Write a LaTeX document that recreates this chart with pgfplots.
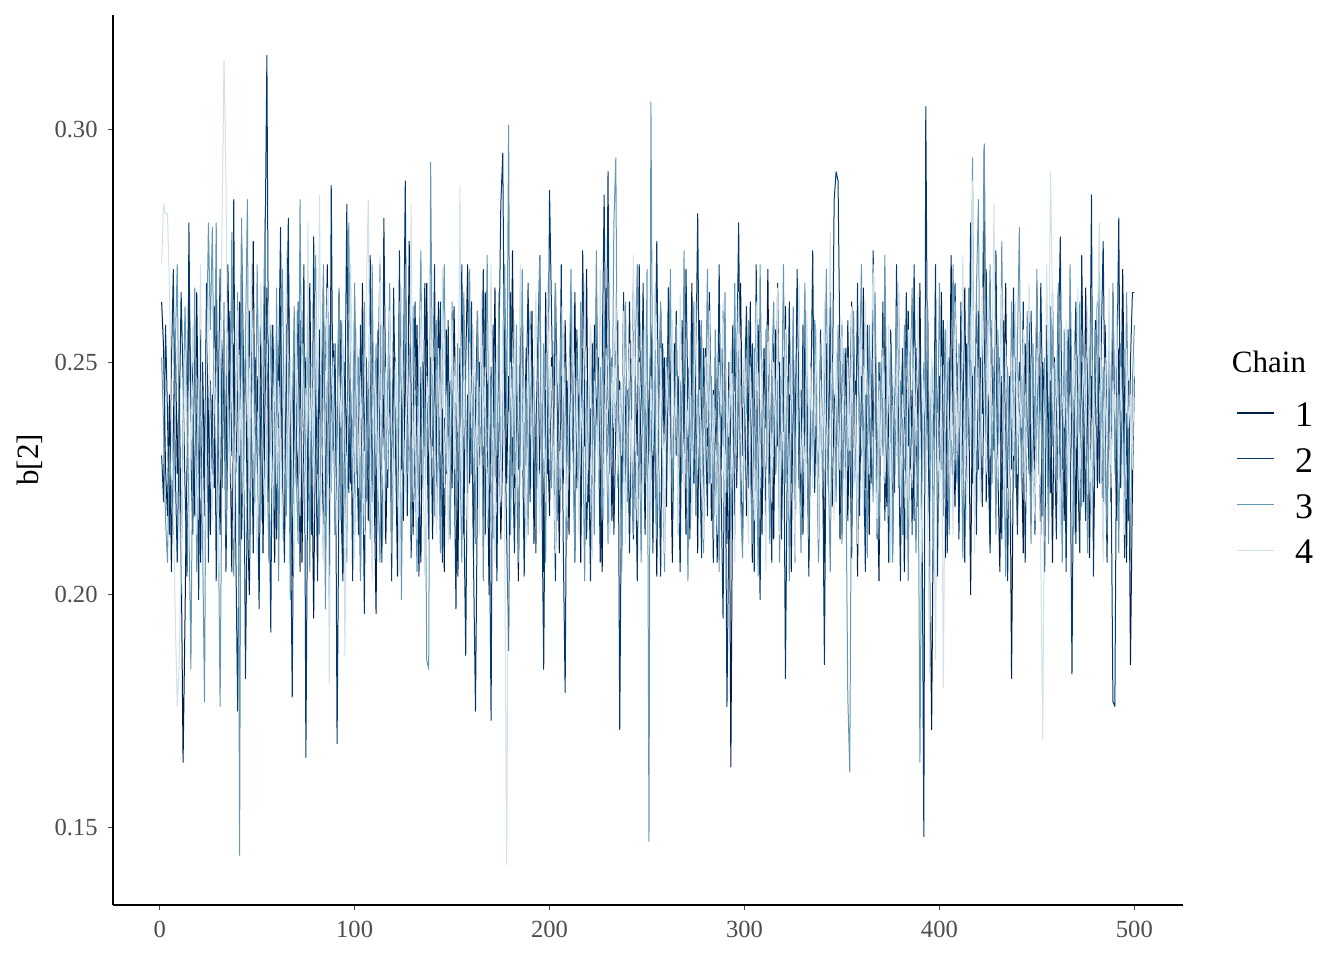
\documentclass[border=0pt]{standalone}
\usepackage{fontspec}
\setmainfont{Liberation Serif}
\usepackage{pgfplots}
\pgfplotsset{compat=1.18}
\usepackage{pgfplotstable}
\usetikzlibrary{calc}
\definecolor{chA}{HTML}{011F4B}
\definecolor{chB}{HTML}{03396C}
\definecolor{chC}{HTML}{6497B1}
\definecolor{chD}{HTML}{D1E1EC}
\definecolor{tickgray}{HTML}{4D4D4D}

\pgfplotstableread{
c1 c2 c3 c4
0.263 0.230 0.251 0.271
0.253 0.220 0.236 0.284
0.227 0.258 0.216 0.282
0.217 0.239 0.207 0.282
0.243 0.213 0.232 0.266
0.205 0.249 0.223 0.236
0.236 0.270 0.213 0.220
0.257 0.227 0.253 0.195
0.226 0.207 0.271 0.176
0.247 0.236 0.230 0.185
0.211 0.265 0.200 0.208
0.164 0.246 0.239 0.230
0.195 0.223 0.262 0.251
0.232 0.204 0.243 0.227
0.270 0.280 0.217 0.209
0.240 0.230 0.184 0.239
0.253 0.213 0.236 0.258
0.217 0.251 0.266 0.232
0.265 0.235 0.205 0.213
0.230 0.199 0.247 0.243
0.207 0.257 0.231 0.271
0.250 0.238 0.212 0.224
0.227 0.217 0.177 0.203
0.258 0.267 0.250 0.247
0.238 0.207 0.280 0.265
0.213 0.246 0.257 0.236
0.243 0.226 0.279 0.216
0.223 0.262 0.239 0.253
0.266 0.203 0.280 0.231
0.232 0.240 0.220 0.205
0.213 0.270 0.176 0.249
0.249 0.223 0.234 0.280
0.257 0.253 0.263 0.315
0.220 0.205 0.213 0.290
0.271 0.238 0.243 0.239
0.238 0.261 0.226 0.224
0.205 0.230 0.278 0.254
0.254 0.285 0.204 0.212
0.226 0.212 0.235 0.236
0.243 0.175 0.265 0.261
0.263 0.227 0.144 0.230
0.212 0.277 0.281 0.247
0.232 0.250 0.223 0.213
0.251 0.182 0.254 0.238
0.217 0.222 0.285 0.257
0.200 0.261 0.208 0.223
0.239 0.240 0.239 0.271
0.276 0.209 0.259 0.243
0.224 0.251 0.220 0.227
0.247 0.232 0.271 0.207
0.230 0.197 0.240 0.251
0.258 0.246 0.216 0.267
0.209 0.226 0.251 0.231
0.240 0.271 0.281 0.216
0.266 0.316 0.230 0.247
0.220 0.230 0.207 0.263
0.249 0.192 0.258 0.239
0.230 0.258 0.238 0.213
0.207 0.238 0.219 0.254
0.254 0.212 0.266 0.224
0.236 0.247 0.203 0.246
0.262 0.279 0.246 0.231
0.224 0.227 0.270 0.212
0.212 0.207 0.234 0.240
0.246 0.253 0.217 0.274
0.270 0.281 0.250 0.223
0.231 0.223 0.199 0.251
0.204 0.178 0.239 0.235
0.253 0.244 0.262 0.205
0.235 0.224 0.227 0.261
0.223 0.263 0.211 0.239
0.259 0.205 0.285 0.217
0.207 0.243 0.236 0.254
0.240 0.271 0.254 0.236
0.251 0.165 0.220 0.213
0.216 0.232 0.266 0.280
0.267 0.253 0.205 0.231
0.232 0.213 0.243 0.249
0.195 0.277 0.226 0.216
0.244 0.235 0.273 0.265
0.226 0.203 0.231 0.240
0.257 0.251 0.213 0.286
0.238 0.227 0.247 0.224
0.208 0.266 0.271 0.207
0.247 0.217 0.197 0.244
0.271 0.246 0.239 0.266
0.223 0.199 0.258 0.181
0.239 0.288 0.222 0.232
0.254 0.231 0.247 0.251
0.213 0.254 0.213 0.226
0.235 0.168 0.238 0.213
0.265 0.224 0.266 0.247
0.220 0.259 0.216 0.236
0.203 0.205 0.254 0.259
0.250 0.239 0.232 0.187
0.230 0.284 0.207 0.227
0.259 0.222 0.280 0.243
0.224 0.244 0.236 0.271
0.243 0.203 0.222 0.239
0.213 0.263 0.267 0.208
0.253 0.234 0.226 0.257
0.236 0.213 0.251 0.223
0.205 0.258 0.203 0.246
0.267 0.239 0.240 0.234
0.231 0.196 0.263 0.213
0.249 0.251 0.220 0.266
0.216 0.227 0.243 0.285
0.239 0.273 0.212 0.231
0.261 0.220 0.271 0.203
0.224 0.246 0.232 0.251
0.196 0.211 0.254 0.240
0.246 0.257 0.223 0.220
0.271 0.231 0.207 0.273
0.227 0.207 0.239 0.236
0.243 0.281 0.257 0.212
0.211 0.240 0.224 0.249
0.236 0.223 0.246 0.227
0.258 0.253 0.267 0.261
0.220 0.203 0.209 0.238
0.251 0.266 0.234 0.217
0.232 0.236 0.251 0.250
0.204 0.216 0.219 0.230
0.263 0.274 0.263 0.205
0.239 0.227 0.199 0.266
0.216 0.246 0.240 0.236
0.254 0.289 0.271 0.222
0.226 0.217 0.226 0.254
0.276 0.254 0.247 0.232
0.243 0.208 0.213 0.284
0.213 0.239 0.262 0.220
0.235 0.263 0.230 0.244
0.258 0.230 0.205 0.212
0.224 0.204 0.250 0.240
0.207 0.249 0.274 0.263
0.250 0.224 0.223 0.230
0.232 0.267 0.243 0.204
0.267 0.236 0.186 0.247
0.220 0.212 0.184 0.238
0.243 0.251 0.293 0.223
0.212 0.232 0.238 0.258
0.251 0.271 0.217 0.235
0.230 0.216 0.259 0.213
0.263 0.243 0.234 0.253
0.217 0.263 0.209 0.231
0.240 0.207 0.253 0.270
0.205 0.238 0.271 0.223
0.257 0.226 0.227 0.243
0.234 0.259 0.246 0.211
0.246 0.213 0.212 0.236
0.223 0.244 0.263 0.259
0.262 0.232 0.238 0.227
0.238 0.197 0.216 0.250
0.204 0.254 0.254 0.235
0.253 0.236 0.231 0.288
0.230 0.271 0.207 0.217
0.213 0.220 0.265 0.246
0.250 0.187 0.240 0.230
0.271 0.243 0.222 0.209
0.224 0.226 0.270 0.254
0.246 0.263 0.226 0.236
0.209 0.207 0.247 0.257
0.239 0.175 0.211 0.226
0.261 0.223 0.261 0.246
0.227 0.250 0.232 0.213
0.244 0.239 0.254 0.265
0.216 0.270 0.203 0.232
0.265 0.213 0.239 0.249
0.232 0.246 0.273 0.216
0.200 0.227 0.224 0.240
0.249 0.173 0.246 0.271
0.236 0.258 0.212 0.227
0.266 0.234 0.250 0.207
0.220 0.203 0.230 0.253
0.243 0.251 0.265 0.236
0.212 0.284 0.219 0.220
0.232 0.295 0.243 0.259
0.258 0.239 0.271 0.212
0.224 0.213 0.236 0.142
0.247 0.188 0.301 0.224
0.230 0.265 0.213 0.250
0.274 0.231 0.249 0.234
0.223 0.209 0.226 0.259
0.246 0.247 0.258 0.216
0.203 0.227 0.207 0.239
0.238 0.259 0.236 0.271
0.262 0.238 0.270 0.227
0.227 0.204 0.223 0.247
0.253 0.243 0.246 0.211
0.217 0.267 0.213 0.236
0.240 0.220 0.261 0.257
0.261 0.250 0.231 0.223
0.211 0.232 0.249 0.244
0.236 0.209 0.211 0.265
0.254 0.254 0.239 0.232
0.226 0.273 0.273 0.213
0.246 0.224 0.220 0.251
0.205 0.184 0.254 0.239
0.265 0.244 0.207 0.220
0.235 0.226 0.258 0.267
0.217 0.287 0.238 0.236
0.251 0.261 0.223 0.249
0.230 0.236 0.246 0.230
0.267 0.203 0.267 0.209
0.239 0.251 0.216 0.254
0.209 0.231 0.236 0.239
0.247 0.271 0.262 0.223
0.224 0.212 0.227 0.259
0.259 0.179 0.250 0.234
0.236 0.246 0.212 0.216
0.213 0.227 0.244 0.251
0.250 0.263 0.270 0.231
0.231 0.239 0.232 0.263
0.265 0.207 0.208 0.226
0.223 0.257 0.253 0.246
0.243 0.234 0.224 0.213
0.207 0.217 0.263 0.243
0.253 0.274 0.239 0.232
0.232 0.243 0.203 0.267
0.270 0.212 0.246 0.220
0.220 0.232 0.227 0.238
0.240 0.203 0.257 0.258
0.212 0.254 0.236 0.208
0.258 0.223 0.213 0.246
0.235 0.266 0.274 0.236
0.251 0.238 0.231 0.227
0.227 0.207 0.249 0.270
0.205 0.250 0.217 0.239
0.244 0.286 0.261 0.219
0.266 0.240 0.238 0.253
0.230 0.291 0.211 0.234
0.249 0.226 0.253 0.213
0.216 0.251 0.231 0.249
0.239 0.213 0.280 0.236
0.261 0.236 0.294 0.265
0.227 0.259 0.223 0.226
0.246 0.171 0.243 0.244
0.209 0.231 0.205 0.230
0.254 0.265 0.240 0.261
0.238 0.220 0.263 0.211
0.222 0.244 0.220 0.239
0.263 0.209 0.246 0.254
0.232 0.239 0.230 0.223
0.212 0.267 0.213 0.273
0.247 0.232 0.253 0.235
0.230 0.203 0.271 0.216
0.271 0.251 0.235 0.250
0.224 0.236 0.207 0.240
0.243 0.267 0.257 0.226
0.213 0.219 0.224 0.259
0.250 0.246 0.270 0.236
0.234 0.226 0.147 0.220
0.257 0.258 0.306 0.247
0.223 0.209 0.231 0.230
0.246 0.243 0.247 0.266
0.204 0.276 0.212 0.238
0.239 0.234 0.243 0.217
0.262 0.204 0.263 0.253
0.231 0.254 0.227 0.232
0.251 0.238 0.205 0.209
0.219 0.223 0.251 0.249
0.266 0.266 0.239 0.238
0.236 0.246 0.270 0.223
0.207 0.216 0.220 0.259
0.254 0.236 0.236 0.230
0.230 0.261 0.258 0.247
0.247 0.227 0.213 0.213
0.217 0.205 0.246 0.265
0.259 0.250 0.226 0.239
0.238 0.232 0.274 0.222
0.213 0.270 0.235 0.246
0.249 0.240 0.203 0.234
0.234 0.212 0.250 0.254
0.267 0.257 0.231 0.216
0.224 0.224 0.263 0.239
0.243 0.247 0.217 0.263
0.209 0.282 0.243 0.227
0.259 0.231 0.227 0.244
0.239 0.208 0.259 0.232
0.220 0.253 0.209 0.212
0.253 0.236 0.240 0.251
0.232 0.217 0.270 0.236
0.265 0.262 0.224 0.261
0.216 0.240 0.247 0.224
0.244 0.207 0.212 0.243
0.236 0.251 0.257 0.231
0.207 0.230 0.236 0.213
0.254 0.271 0.205 0.250
0.227 0.223 0.253 0.239
0.261 0.195 0.232 0.263
0.239 0.246 0.265 0.219
0.211 0.176 0.222 0.243
0.250 0.217 0.244 0.234
0.163 0.239 0.212 0.253
0.231 0.258 0.236 0.227
0.257 0.213 0.267 0.207
0.223 0.247 0.230 0.246
0.246 0.280 0.251 0.265
0.267 0.232 0.220 0.236
0.230 0.211 0.208 0.220
0.251 0.243 0.246 0.254
0.217 0.262 0.239 0.231
0.239 0.223 0.259 0.211
0.263 0.239 0.227 0.249
0.207 0.254 0.211 0.234
0.246 0.205 0.253 0.216
0.227 0.271 0.236 0.263
0.258 0.230 0.204 0.239
0.235 0.199 0.271 0.223
0.213 0.250 0.240 0.251
0.253 0.235 0.223 0.230
0.236 0.216 0.257 0.205
0.270 0.259 0.234 0.258
0.224 0.238 0.211 0.239
0.247 0.207 0.249 0.220
0.212 0.254 0.263 0.250
0.257 0.226 0.226 0.232
0.232 0.267 0.246 0.266
0.250 0.236 0.207 0.213
0.216 0.212 0.239 0.243
0.240 0.251 0.271 0.227
0.262 0.182 0.224 0.257
0.226 0.232 0.247 0.236
0.243 0.263 0.203 0.217
0.205 0.224 0.236 0.251
0.251 0.246 0.262 0.235
0.234 0.207 0.219 0.207
0.266 0.270 0.253 0.246
0.223 0.239 0.230 0.267
0.244 0.219 0.209 0.226
0.213 0.258 0.244 0.238
0.257 0.232 0.267 0.216
0.238 0.250 0.232 0.261
0.208 0.204 0.212 0.232
0.247 0.240 0.250 0.249
0.227 0.274 0.226 0.223
0.259 0.222 0.259 0.240
0.239 0.243 0.238 0.257
0.220 0.209 0.207 0.212
0.250 0.257 0.254 0.246
0.231 0.234 0.223 0.231
0.207 0.185 0.243 0.263
0.254 0.246 0.270 0.224
0.236 0.223 0.227 0.247
0.265 0.265 0.205 0.278
0.219 0.239 0.250 0.235
0.243 0.285 0.239 0.216
0.227 0.291 0.220 0.253
0.250 0.289 0.258 0.238
0.212 0.250 0.232 0.227
0.258 0.213 0.211 0.259
0.235 0.243 0.253 0.236
0.253 0.224 0.227 0.216
0.216 0.259 0.178 0.251
0.240 0.234 0.162 0.231
0.263 0.208 0.238 0.262
0.224 0.254 0.261 0.223
0.246 0.230 0.230 0.243
0.204 0.267 0.213 0.211
0.249 0.217 0.249 0.254
0.230 0.247 0.271 0.234
0.266 0.236 0.226 0.217
0.223 0.205 0.243 0.263
0.243 0.258 0.208 0.240
0.213 0.238 0.258 0.226
0.251 0.224 0.236 0.250
0.234 0.274 0.220 0.271
0.258 0.243 0.265 0.235
0.227 0.212 0.232 0.213
0.203 0.250 0.212 0.246
0.247 0.232 0.250 0.230
0.238 0.263 0.230 0.253
0.262 0.216 0.273 0.224
0.219 0.240 0.240 0.236
0.239 0.207 0.217 0.258
0.254 0.257 0.254 0.207
0.209 0.239 0.207 0.239
0.246 0.222 0.239 0.249
0.230 0.271 0.262 0.230
0.265 0.236 0.223 0.267
0.224 0.203 0.246 0.219
0.250 0.253 0.213 0.243
0.205 0.227 0.258 0.234
0.239 0.265 0.238 0.212
0.261 0.232 0.203 0.257
0.227 0.250 0.247 0.238
0.244 0.213 0.266 0.223
0.216 0.271 0.227 0.253
0.253 0.236 0.209 0.232
0.236 0.219 0.239 0.265
0.267 0.254 0.164 0.227
0.220 0.226 0.224 0.207
0.243 0.148 0.250 0.246
0.232 0.305 0.231 0.236
0.259 0.238 0.262 0.216
0.213 0.212 0.227 0.183
0.171 0.250 0.246 0.251
0.226 0.230 0.205 0.227
0.250 0.271 0.253 0.186
0.240 0.204 0.230 0.239
0.223 0.247 0.267 0.220
0.265 0.227 0.238 0.249
0.234 0.259 0.217 0.180
0.208 0.239 0.257 0.236
0.253 0.209 0.236 0.259
0.230 0.251 0.213 0.226
0.273 0.234 0.247 0.243
0.238 0.223 0.271 0.213
0.219 0.267 0.232 0.263
0.250 0.243 0.224 0.231
0.212 0.216 0.254 0.251
0.254 0.263 0.239 0.224
0.235 0.231 0.208 0.273
0.266 0.207 0.250 0.239
0.224 0.254 0.230 0.216
0.244 0.236 0.266 0.250
0.200 0.280 0.238 0.232
0.247 0.224 0.294 0.289
0.231 0.249 0.217 0.209
0.263 0.213 0.266 0.254
0.227 0.261 0.285 0.236
0.251 0.239 0.227 0.220
0.239 0.219 0.261 0.266
0.296 0.250 0.297 0.240
0.220 0.270 0.230 0.226
0.243 0.230 0.250 0.258
0.211 0.209 0.271 0.230
0.259 0.254 0.224 0.250
0.231 0.232 0.246 0.284
0.250 0.274 0.213 0.235
0.226 0.224 0.257 0.224
0.205 0.251 0.236 0.244
0.247 0.212 0.276 0.266
0.238 0.259 0.231 0.219
0.267 0.236 0.204 0.254
0.223 0.203 0.249 0.236
0.246 0.247 0.227 0.213
0.182 0.227 0.263 0.251
0.236 0.266 0.239 0.230
0.257 0.238 0.223 0.263
0.217 0.213 0.253 0.226
0.249 0.250 0.279 0.246
0.234 0.232 0.224 0.236
0.209 0.263 0.243 0.257
0.254 0.207 0.219 0.220
0.238 0.244 0.261 0.239
0.262 0.226 0.236 0.267
0.219 0.261 0.211 0.249
0.243 0.238 0.254 0.231
0.227 0.213 0.232 0.216
0.266 0.251 0.270 0.253
0.232 0.230 0.226 0.238
0.213 0.267 0.249 0.207
0.250 0.239 0.217 0.169
0.239 0.205 0.251 0.235
0.258 0.254 0.239 0.271
0.223 0.236 0.211 0.243
0.246 0.222 0.262 0.291
0.207 0.265 0.232 0.263
0.251 0.234 0.250 0.226
0.235 0.212 0.224 0.251
0.266 0.253 0.267 0.231
0.224 0.277 0.239 0.213
0.244 0.227 0.207 0.247
0.216 0.247 0.257 0.236
0.254 0.205 0.236 0.259
0.236 0.257 0.226 0.224
0.261 0.238 0.271 0.243
0.226 0.183 0.243 0.220
0.246 0.244 0.213 0.254
0.211 0.263 0.251 0.232
0.257 0.226 0.234 0.266
0.232 0.209 0.263 0.223
0.250 0.273 0.219 0.240
0.220 0.240 0.254 0.251
0.266 0.216 0.238 0.230
0.239 0.251 0.209 0.262
0.208 0.234 0.246 0.236
0.247 0.286 0.266 0.217
0.230 0.204 0.227 0.247
0.259 0.239 0.257 0.227
0.223 0.263 0.239 0.257
0.251 0.224 0.271 0.280
0.240 0.254 0.224 0.236
0.212 0.276 0.249 0.207
0.258 0.236 0.232 0.251
0.234 0.207 0.213 0.232
0.250 0.253 0.258 0.266
0.220 0.230 0.236 0.223
0.265 0.177 0.267 0.246
0.236 0.176 0.226 0.239
0.216 0.246 0.243 0.261
0.253 0.281 0.209 0.224
0.231 0.223 0.254 0.249
0.270 0.258 0.236 0.231
0.239 0.208 0.224 0.213
0.207 0.239 0.265 0.253
0.246 0.216 0.235 0.236
0.185 0.250 0.207 0.243
0.223 0.265 0.246 0.227
0.247 0.265 0.258 0.251
}\trace

\begin{document}
\begin{tikzpicture}
\begin{axis}[
  scale only axis, width=535pt, height=445pt,
  xmin=-23.95, xmax=524.95, ymin=0.1333, ymax=0.3247,
  axis x line*=bottom, axis y line*=left,
  axis line style={black, line width=1pt, -},
  xtick={0,100,200,300,400,500},
  ytick={0.15,0.20,0.25,0.30},
  /pgf/number format/assume math mode=true,
  tick style={tickgray, line width=0.6pt},
  major tick length=2.5pt, tick align=outside,
  ticklabel style={font=\fontsize{12.3}{14}\selectfont, text=tickgray, inner sep=0pt},
  yticklabel style={anchor=east, xshift=-5pt, /pgf/number format/.cd, fixed, fixed zerofill, precision=2},
  xticklabel style={anchor=north, yshift=-5.5pt},
  ylabel={b[2]},
  ylabel style={font=\fontsize{15.5}{18}\selectfont, at={(axis description cs:-0.0776,0.5)}, anchor=center, inner sep=0pt},
  legend style={draw=none, fill=none, at={(axis description cs:1.0495,0.472)}, anchor=west,
    inner sep=0pt, outer sep=0pt, row sep=9.5pt, column sep=10.5pt,
    nodes={inner sep=0pt}, font=\fontsize{18}{20}\selectfont},
  legend cell align=left,
  legend image code/.code={\draw[#1, line width=0.6pt] (0pt,0.16em) -- (18.5pt,0.16em);},
  every axis plot/.append style={line width=0.5pt, line join=round},
]
\addplot[chA, no markers] table[x expr=\coordindex+1, y=c1] {\trace};
\addlegendentry{1}
\addplot[chB, no markers] table[x expr=\coordindex+1, y=c2] {\trace};
\addlegendentry{2}
\addplot[chC, no markers] table[x expr=\coordindex+1, y=c3] {\trace};
\addlegendentry{3}
\addplot[chD, no markers] table[x expr=\coordindex+1, y=c4] {\trace};
\addlegendentry{4}
\coordinate (O) at (rel axis cs:0,0);
\end{axis}
\node[anchor=center, inner sep=0pt, font=\fontsize{15.5}{18}\selectfont] at ($(O)+(578pt,271.5pt)$) {Chain};
\path[use as bounding box] ($(O)+(-56.5pt,-27.5pt)$) rectangle ($(O)+(615.5pt,452.5pt)$);
\end{tikzpicture}
\end{document}
